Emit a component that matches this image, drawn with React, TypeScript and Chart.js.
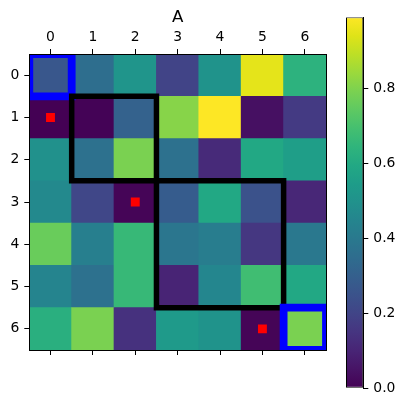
import React, { useEffect, useRef } from 'react';
import { Chart, registerables } from 'chart.js';

Chart.register(...registerables);

// ---- data ----
const TITLE = 'A';
const AXIS_TICKS = [0, 1, 2, 3, 4, 5, 6];
const ROW_0 = [0.267, 0.356, 0.515, 0.198, 0.505, 0.95, 0.634];
const ROW_1 = [0.0, 0.005, 0.307, 0.812, 0.99, 0.04, 0.168];
const ROW_2 = [0.495, 0.366, 0.792, 0.366, 0.119, 0.594, 0.554];
const ROW_3 = [0.465, 0.208, 0.01, 0.287, 0.594, 0.248, 0.109];
const ROW_4 = [0.762, 0.426, 0.663, 0.386, 0.416, 0.158, 0.396];
const ROW_5 = [0.446, 0.366, 0.663, 0.099, 0.455, 0.683, 0.594];
const ROW_6 = [0.624, 0.792, 0.139, 0.535, 0.505, 0.01, 0.792];
const VALUES = [ROW_0, ROW_1, ROW_2, ROW_3, ROW_4, ROW_5, ROW_6];
const CBAR_TICKS = [0, 0.2, 0.4, 0.6, 0.8];
const RED_MARKERS = [
  { x: 0, y: 1 },
  { x: 2, y: 3 },
  { x: 5, y: 6 },
];
const BLACK_BOX_1 = [[0.5, 0.5], [2.5, 0.5], [2.5, 2.5], [0.5, 2.5]];
const BLACK_BOX_2 = [[2.5, 2.5], [5.5, 2.5], [5.5, 5.5], [2.5, 5.5]];
const BLUE_BOX_1 = [[-0.5, -0.5], [0.5, -0.5], [0.5, 0.5], [-0.5, 0.5]];
const BLUE_BOX_2 = [[5.5, 5.5], [6.5, 5.5], [6.5, 6.5], [5.5, 6.5]];

// ---- colormap ----
const VIRIDIS = [
  '#440154', '#471365', '#482475', '#463480', '#414487', '#3b528b', '#355f8d',
  '#2f6c8e', '#2a788e', '#25848e', '#21918c', '#1e9c89', '#22a884', '#2fb47c',
  '#44bf70', '#5ec962', '#7ad151', '#9bd93c', '#bddf26', '#dfe318', '#fde725',
];
const hexToRgb = (h: string) => [
  parseInt(h.slice(1, 3), 16),
  parseInt(h.slice(3, 5), 16),
  parseInt(h.slice(5, 7), 16),
];
const VIR_RGB = VIRIDIS.map(hexToRgb);
function viridis(t: number): string {
  const tt = Math.max(0, Math.min(1, t)) * (VIR_RGB.length - 1);
  const i = Math.min(Math.floor(tt), VIR_RGB.length - 2);
  const f = tt - i;
  const a = VIR_RGB[i];
  const b = VIR_RGB[i + 1];
  const c = a.map((v, k) => Math.round(v + (b[k] - v) * f));
  return `rgb(${c[0]},${c[1]},${c[2]})`;
}

const ALL = VALUES.flat();
const VMIN = Math.min(...ALL);
const VMAX = Math.max(...ALL);

const FONT = "'DejaVu Sans', sans-serif";
Chart.defaults.font.family = FONT;
Chart.defaults.font.size = 13.9;
Chart.defaults.color = '#000';

const toPts = (box: number[][]) => {
  const pts = box.map(([x, y]) => ({ x, y }));
  pts.push({ ...pts[0] });
  return pts;
};

const setTicks = (vals: number[]) => (axis: any) => {
  axis.ticks = vals.map((v) => ({ value: v }));
};

const tickGrid = {
  drawOnChartArea: false,
  drawTicks: true,
  tickLength: 5,
  tickWidth: 1,
  tickColor: '#000',
  offset: false,
};
const spine = { display: true, color: '#000', width: 1, z: 1 };

export default function App() {
  const heatRef = useRef<HTMLCanvasElement>(null);
  const cbarRef = useRef<HTMLCanvasElement>(null);

  useEffect(() => {
    const cells: any[] = [];
    VALUES.forEach((row, r) =>
      row.forEach((v, c) => cells.push({ x: c, y: [r - 0.5, r + 0.5], v }))
    );

    const lineBox = (pts: number[][], color: string, width: number, order: number, clip?: number) => ({
      type: 'line',
      data: toPts(pts),
      borderColor: color,
      borderWidth: width,
      pointRadius: 0,
      tension: 0,
      fill: false,
      borderJoinStyle: 'miter',
      borderCapStyle: 'square',
      ...(clip !== undefined ? { clip } : {}),
      order,
    });

    const heat = new Chart(heatRef.current as HTMLCanvasElement, {
      type: 'bar',
      data: {
        datasets: [
          {
            type: 'line',
            data: RED_MARKERS,
            showLine: false,
            pointStyle: 'rect',
            pointRadius: 6.3,
            pointBackgroundColor: '#ff0000',
            pointBorderWidth: 0,
            order: 1,
          } as any,
          lineBox(BLUE_BOX_2, '#0000ff', 7.8, 2, 0) as any,
          lineBox(BLACK_BOX_1, '#000000', 5.5, 3) as any,
          lineBox(BLACK_BOX_2, '#000000', 5.5, 3) as any,
          lineBox(BLUE_BOX_1, '#0000ff', 7.8, 4, 0) as any,
          {
            type: 'bar',
            data: cells,
            backgroundColor: (ctx: any) =>
              viridis(((ctx.raw && ctx.raw.v) - VMIN) / (VMAX - VMIN)),
            borderWidth: 0,
            barPercentage: 1,
            categoryPercentage: 1,
            grouped: false,
            inflateAmount: 0.4,
            clip: 0,
            order: 10,
          } as any,
        ],
      },
      options: {
        responsive: false,
        animation: false,
        events: [],
        layout: { padding: { left: 0, top: 0, right: 14, bottom: 15 } },
        plugins: {
          legend: { display: false },
          tooltip: { enabled: false },
          title: {
            display: true,
            text: TITLE,
            fullSize: false,
            color: '#000',
            font: { family: FONT, size: 16.7, weight: 'normal' },
            padding: { top: 7.5, bottom: 0 },
          },
        },
        scales: {
          x: {
            type: 'linear',
            position: 'top',
            offset: false,
            min: -0.5,
            max: 6.5,
            afterBuildTicks: setTicks(AXIS_TICKS),
            afterFit: (s: any) => {
              s.height = 26.46;
            },
            grid: tickGrid,
            border: spine,
            ticks: { color: '#000', padding: 3.3, maxRotation: 0, autoSkip: false },
          },
          x2: {
            type: 'linear',
            position: 'bottom',
            offset: false,
            min: -0.5,
            max: 6.5,
            afterBuildTicks: setTicks(AXIS_TICKS),
            afterFit: (s: any) => {
              s.height = 5;
            },
            grid: tickGrid,
            border: spine,
            ticks: { display: false },
          },
          y: {
            type: 'linear',
            position: 'left',
            offset: false,
            reverse: true,
            min: -0.5,
            max: 6.5,
            afterBuildTicks: setTicks(AXIS_TICKS),
            afterFit: (s: any) => {
              s.width = 29.3;
            },
            grid: tickGrid,
            border: spine,
            ticks: { color: '#000', padding: 5, autoSkip: false },
          },
          y2: {
            type: 'linear',
            position: 'right',
            offset: false,
            min: -0.5,
            max: 6.5,
            afterBuildTicks: setTicks(AXIS_TICKS),
            afterFit: (s: any) => {
              s.width = 0;
            },
            grid: { drawOnChartArea: false, drawTicks: false },
            border: spine,
            ticks: { display: false },
          },
        } as any,
      },
    });

    const cbar = new Chart(cbarRef.current as HTMLCanvasElement, {
      type: 'bar',
      data: {
        labels: [''],
        datasets: [
          {
            data: [[VMIN, VMAX]] as any,
            backgroundColor: (ctx: any) => {
              const chart = ctx.chart;
              if (!chart.chartArea) return '#888';
              const ys = chart.scales.y;
              const g = chart.ctx.createLinearGradient(
                0,
                ys.getPixelForValue(VMIN),
                0,
                ys.getPixelForValue(VMAX)
              );
              VIRIDIS.forEach((c, i) => g.addColorStop(i / (VIRIDIS.length - 1), c));
              return g;
            },
            borderColor: '#000',
            borderWidth: 1,
            borderSkipped: false,
            inflateAmount: 0,
            barPercentage: 1,
            categoryPercentage: 1,
          } as any,
        ],
      },
      options: {
        responsive: false,
        animation: false,
        events: [],
        layout: { padding: { left: 16, top: 17.3, bottom: 18.7, right: 0 } },
        plugins: { legend: { display: false }, tooltip: { enabled: false } },
        scales: {
          x: { display: false },
          y: {
            type: 'linear',
            position: 'right',
            min: VMIN,
            max: VMAX,
            afterBuildTicks: setTicks(CBAR_TICKS),
            afterFit: (s: any) => {
              s.width = 41.7;
            },
            grid: tickGrid,
            border: spine,
            ticks: {
              color: '#000',
              padding: 5,
              callback: (v: any) => Number(v).toFixed(1),
            },
          },
        } as any,
      },
    });

    return () => {
      heat.destroy();
      cbar.destroy();
    };
  }, []);

  return (
    <div
      style={{
        position: 'absolute',
        left: 0,
        top: 0,
        width: 405,
        height: 407,
        background: '#fff',
      }}
    >
      <canvas
        ref={heatRef}
        width={340}
        height={370}
        style={{ position: 'absolute', left: 0, top: 0, width: 340, height: 370 }}
      />
      <canvas
        ref={cbarRef}
        width={75}
        height={407}
        style={{ position: 'absolute', left: 330, top: 0, width: 75, height: 407 }}
      />
    </div>
  );
}
